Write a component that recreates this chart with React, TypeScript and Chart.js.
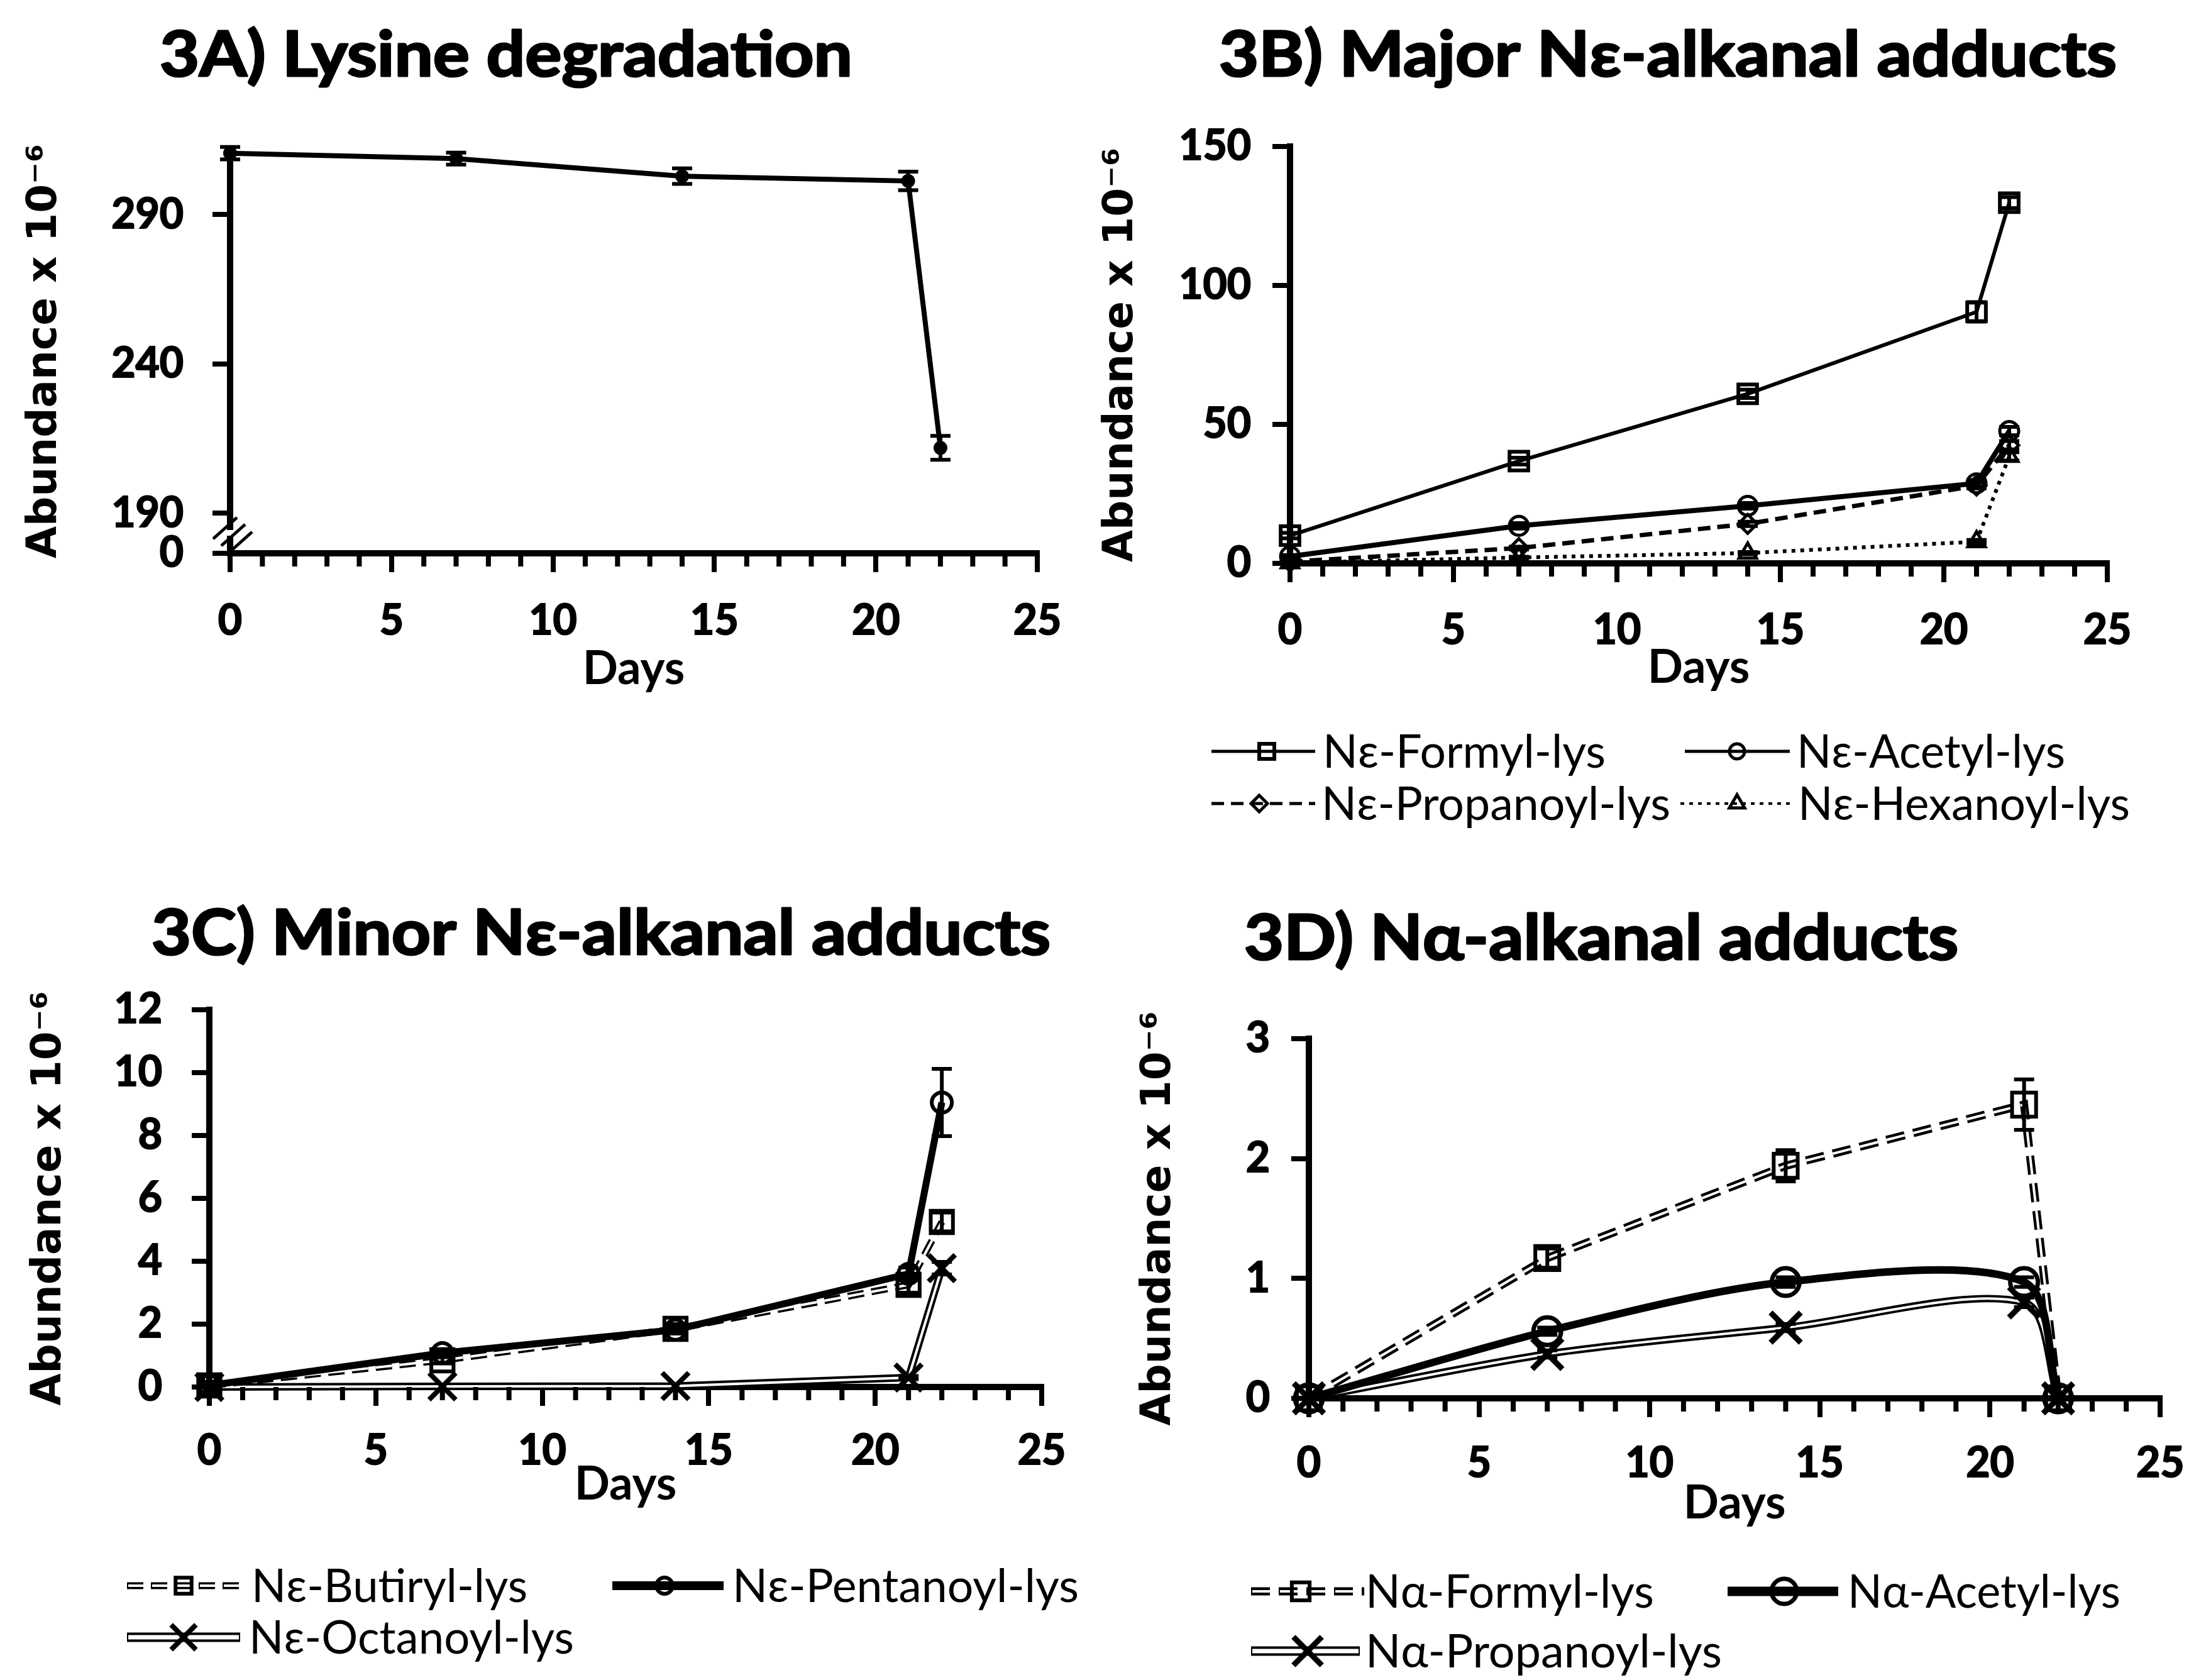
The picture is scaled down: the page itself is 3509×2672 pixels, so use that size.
import React, { useEffect, useRef } from 'react';
import { Chart, registerables } from 'chart.js';

Chart.register(...registerables);

const PAGE_W = 3509;
const PAGE_H = 2672;

/* ---------------- values ---------------- */
const DAYS = [0, 7, 14, 21, 22];
const X_MIN = 0;
const X_MAX = 25;
const X_STEP = 5;
const X_MINOR_STEP = 1;

// 3A
const LYSINE = [310.6, 308.8, 302.9, 301.3, 211.9];
const LYSINE_ERR = [2.1, 2.0, 2.6, 3.1, 4.0];
const LYSINE_Y_TICKS = [190, 240, 290];
const LYSINE_AXIS_BOTTOM = 176.6;
const LYSINE_AXIS_TOP = 312;
const LYSINE_BREAK_LABEL = '0';

// 3B
const NE_FORMYL = [10, 36.8, 61, 90.5, 129.8];
const NE_FORMYL_ERR = [1, 1.2, 1.5, 3.5, 2];
const NE_ACETYL = [2.5, 13.5, 20.7, 28.8, 47.6];
const NE_ACETYL_ERR = [0.5, 1, 1, 1.2, 1.5];
const NE_PROPANOYL = [0.6, 5.5, 14.2, 28, 42.5];
const NE_PROPANOYL_ERR = [0.2, 0.5, 0.8, 1, 1.5];
const NE_HEXANOYL = [0.2, 2.1, 3.7, 7.8, 38.5];
const NE_HEXANOYL_ERR = [0.1, 0.3, 0.4, 0.6, 1.5];
const B_Y_MAX = 150;
const B_Y_STEP = 50;

// 3C
const NE_BUTIRYL = [0.05, 0.85, 1.85, 3.25, 5.25];
const NE_BUTIRYL_ERR = [0.03, 0.1, 0.15, 0.25, 0.3];
const NE_PENTANOYL = [0.05, 1.08, 1.82, 3.6, 9.05];
const NE_PENTANOYL_ERR = [0.03, 0.08, 0.1, 0.2, 1.07];
const NE_OCTANOYL = [0, 0.02, 0.03, 0.3, 3.78];
const NE_OCTANOYL_ERR = [0, 0, 0, 0.05, 0.2];
const C_Y_MAX = 12;
const C_Y_STEP = 2;

// 3D
const NA_FORMYL = [0, 1.17, 1.94, 2.45, 0];
const NA_FORMYL_ERR = [0, 0.08, 0.13, 0.21, 0];
const NA_ACETYL = [0, 0.56, 0.97, 0.97, 0];
const NA_ACETYL_ERR = [0, 0.03, 0.04, 0.04, 0];
const NA_PROPANOYL = [0, 0.37, 0.59, 0.8, 0];
const NA_PROPANOYL_ERR = [0, 0.03, 0.03, 0.04, 0];
const D_Y_MAX = 3;
const D_Y_STEP = 1;

/* ---------------- texts ---------------- */
const TITLES = [
  '3A) Lysine degradation',
  '3B) Major Nε-alkanal adducts',
  '3C) Minor Nε-alkanal adducts',
  '3D) Nα-alkanal adducts',
];
const Y_TITLE = 'Abundance x 10⁻⁶';
const X_TITLE = 'Days';
const B_NAMES = ['Nε-Formyl-lys', 'Nε-Acetyl-lys', 'Nε-Propanoyl-lys', 'Nε-Hexanoyl-lys'];
const C_NAMES = ['Nε-Butiryl-lys', 'Nε-Pentanoyl-lys', 'Nε-Octanoyl-lys'];
const D_NAMES = ['Nα-Formyl-lys', 'Nα-Acetyl-lys', 'Nα-Propanoyl-lys'];

/* ---------------- styles ---------------- */
const NONE = 'rgba(0,0,0,0)';
const A_STYLE = { width: 8, point: 'circle', radius: 10, pointWidth: 2, pointFill: '#000' };
const B_STYLES = [
  { width: 6, point: 'rect', radius: 21, pointWidth: 6, legendRadius: 17, legendWidth: 5 },
  { width: 8, point: 'circle', radius: 15, pointWidth: 5, legendRadius: 12, legendWidth: 5 },
  { width: 7, dash: [20, 11], point: 'rectRot', radius: 15, pointWidth: 5, legendRadius: 13, legendWidth: 5 },
  { width: 6, dash: [6, 8], point: 'triangle', radius: 16, pointWidth: 5, legendRadius: 14, legendWidth: 4 },
];
const C_STYLES = [
  { width: 11, inner: 4, dash: [26, 12], point: 'rect', radius: 25, pointWidth: 6, legendRadius: 18 },
  { width: 11, point: 'circle', radius: 16, pointWidth: 6, legendRadius: 13, legendWidth: 14 },
  { width: 12, inner: 4, point: 'crossRot', radius: 30, pointWidth: 8, legendRadius: 28, legendWidth: 15, legendInner: 7 },
];
const D_STYLES = [
  { width: 13, inner: 4, dash: [30, 14], point: 'rect', radius: 27, pointWidth: 6, legendRadius: 20 },
  { width: 12, tension: 0.3, point: 'circle', radius: 22, pointWidth: 7, legendRadius: 20, legendWidth: 15 },
  { width: 12, inner: 4, tension: 0.3, point: 'crossRot', radius: 34, pointWidth: 9, legendRadius: 32, legendWidth: 15, legendInner: 7 },
];

const TICK_LEN_Y = 28;
const TICK_LEN_X = 30;
const MINOR_LEN = 21;
const AXIS_W = 10;
const TICK_W = 8;
const LH = 1.2;
const TICK_FONT = { family: 'Lato', weight: 'bold', size: 66, lineHeight: LH };
const XTITLE_FONT = { family: 'Lato', weight: 'bold', size: 74, lineHeight: LH };
const YTITLE_FONT = { family: 'DejaVu Sans', weight: 'bold', size: 66, lineHeight: LH };
const TITLE_FONT = 'bold 99px Lato';
const TITLE_STROKE = 3;
const LEGEND_FONT = '74px Lato';
const LEGEND_CAP = 26;

/* ---------------- panels (layout) ---------------- */
const PANELS = [
  {
    area: { l: 366, t: 237, r: 1650, b: 880 },
    yTitleCx: 72, xTitleCy: 1064, xTickCy: 988, yLabelRight: 292,
    yMin: LYSINE_AXIS_BOTTOM, yMax: LYSINE_AXIS_TOP, yStep: 50,
    customYTicks: LYSINE_Y_TICKS, bottomLabel: LYSINE_BREAK_LABEL, axisBreak: true,
    title: TITLES[0], titleCx: 805, titleBase: 121, titleW: 1102,
    series: [{ values: LYSINE, errors: LYSINE_ERR, style: A_STYLE }],
    legend: [],
  },
  {
    area: { l: 2052, t: 233, r: 3352, b: 896 },
    yTitleCx: 1784, xTitleCy: 1062, xTickCy: 1003, yLabelRight: 1990,
    yMin: 0, yMax: B_Y_MAX, yStep: B_Y_STEP,
    title: TITLES[1], titleCx: 2653, titleBase: 121, titleW: 1428,
    series: [
      { values: NE_FORMYL, errors: NE_FORMYL_ERR, style: B_STYLES[0] },
      { values: NE_ACETYL, errors: NE_ACETYL_ERR, style: B_STYLES[1] },
      { values: NE_PROPANOYL, errors: NE_PROPANOYL_ERR, style: B_STYLES[2] },
      { values: NE_HEXANOYL, errors: NE_HEXANOYL_ERR, style: B_STYLES[3] },
    ],
    legend: [
      { text: B_NAMES[0], style: B_STYLES[0], x1: 1927, x2: 2092, mx: 2015, y: 1195, tx: 2104, tw: 450 },
      { text: B_NAMES[1], style: B_STYLES[1], x1: 2680, x2: 2847, mx: 2763, y: 1195, tx: 2858, tw: 427 },
      { text: B_NAMES[2], style: B_STYLES[2], x1: 1927, x2: 2092, mx: 2003, y: 1278, tx: 2102, tw: 555 },
      { text: B_NAMES[3], style: B_STYLES[3], x1: 2673, x2: 2847, mx: 2763, y: 1278, tx: 2860, tw: 528 },
    ],
  },
  {
    area: { l: 333, t: 1606, r: 1657, b: 2206 },
    yTitleCx: 79, xTitleCy: 2361, xTickCy: 2308, yLabelRight: 258,
    yMin: 0, yMax: C_Y_MAX, yStep: C_Y_STEP,
    title: TITLES[2], titleCx: 956, titleBase: 1518, titleW: 1430,
    series: [
      { values: NE_BUTIRYL, errors: NE_BUTIRYL_ERR, style: C_STYLES[0] },
      { values: NE_PENTANOYL, errors: NE_PENTANOYL_ERR, style: C_STYLES[1] },
      { values: NE_OCTANOYL, errors: NE_OCTANOYL_ERR, style: C_STYLES[2] },
    ],
    legend: [
      { text: C_NAMES[0], style: C_STYLES[0], x1: 202, x2: 387, mx: 292, y: 2522, tx: 400, tw: 439 },
      { text: C_NAMES[1], style: C_STYLES[1], x1: 974, x2: 1151, mx: 1057, y: 2522, tx: 1165, tw: 551 },
      { text: C_NAMES[2], style: C_STYLES[2], x1: 202, x2: 382, mx: 292, y: 2604, tx: 396, tw: 517 },
    ],
  },
  {
    area: { l: 2082, t: 1652, r: 3458, b: 2224 },
    yTitleCx: 1844, xTitleCy: 2391, xTickCy: 2328, yLabelRight: 2020,
    yMin: 0, yMax: D_Y_MAX, yStep: D_Y_STEP,
    title: TITLES[3], titleCx: 2547, titleBase: 1526, titleW: 1136,
    series: [
      { values: NA_FORMYL, errors: NA_FORMYL_ERR, style: D_STYLES[0] },
      { values: NA_ACETYL, errors: NA_ACETYL_ERR, style: D_STYLES[1] },
      { values: NA_PROPANOYL, errors: NA_PROPANOYL_ERR, style: D_STYLES[2] },
    ],
    legend: [
      { text: D_NAMES[0], style: D_STYLES[0], x1: 1990, x2: 2170, mx: 2069, y: 2531, tx: 2172, tw: 459 },
      { text: D_NAMES[1], style: D_STYLES[1], x1: 2748, x2: 2924, mx: 2838, y: 2531, tx: 2939, tw: 434 },
      { text: D_NAMES[2], style: D_STYLES[2], x1: 1990, x2: 2163, mx: 2080, y: 2626, tx: 2172, tw: 567 },
    ],
  },
];

/* ---------------- drawing helpers ---------------- */
function drawMarker(ctx: any, style: string, x: number, y: number, r: number, lw: number, fill: string) {
  ctx.save();
  ctx.beginPath();
  ctx.lineWidth = lw;
  ctx.strokeStyle = '#000';
  ctx.fillStyle = fill;
  ctx.setLineDash([]);
  if (style === 'circle') {
    ctx.arc(x, y, r, 0, Math.PI * 2);
  } else if (style === 'rect') {
    const s = r * Math.SQRT1_2;
    ctx.rect(x - s, y - s, 2 * s, 2 * s);
  } else if (style === 'rectRot') {
    ctx.moveTo(x - r, y);
    ctx.lineTo(x, y - r);
    ctx.lineTo(x + r, y);
    ctx.lineTo(x, y + r);
    ctx.closePath();
  } else if (style === 'triangle') {
    ctx.moveTo(x, y - r);
    ctx.lineTo(x + 0.866 * r, y + 0.5 * r);
    ctx.lineTo(x - 0.866 * r, y + 0.5 * r);
    ctx.closePath();
  } else if (style === 'crossRot') {
    const o = r * Math.SQRT1_2;
    ctx.moveTo(x - o, y - o);
    ctx.lineTo(x + o, y + o);
    ctx.moveTo(x + o, y - o);
    ctx.lineTo(x - o, y + o);
  }
  if (style !== 'crossRot') ctx.fill();
  ctx.stroke();
  ctx.restore();
}

function drawFitted(ctx: any, text: string, x: number, y: number, font: string, targetW: number, align: string, stroke = 0) {
  ctx.save();
  ctx.font = font;
  ctx.fillStyle = '#000';
  const w = ctx.measureText(text).width;
  const k = targetW ? targetW / w : 1;
  ctx.translate(x, y);
  ctx.scale(k, 1);
  ctx.textAlign = align;
  ctx.textBaseline = 'alphabetic';
  ctx.fillText(text, 0, 0);
  if (stroke) {
    ctx.strokeStyle = '#000';
    ctx.lineWidth = stroke;
    ctx.lineJoin = 'round';
    ctx.strokeText(text, 0, 0);
  }
  ctx.restore();
}

function drawSample(ctx: any, st: any, x1: number, x2: number, y: number) {
  ctx.save();
  ctx.lineCap = 'butt';
  ctx.strokeStyle = '#000';
  ctx.lineWidth = st.legendWidth ?? st.width;
  ctx.setLineDash(st.dash ?? []);
  ctx.beginPath();
  ctx.moveTo(x1, y);
  ctx.lineTo(x2, y);
  ctx.stroke();
  if (st.inner) {
    ctx.strokeStyle = '#fff';
    ctx.lineWidth = st.legendInner ?? st.inner;
    ctx.beginPath();
    ctx.moveTo(x1 + 2, y);
    ctx.lineTo(x2 - 2, y);
    ctx.stroke();
  }
  ctx.restore();
}

function overlayPlugin(p: any) {
  return {
    id: 'overlay',
    afterDatasetsDraw(chart: any) {
      const { ctx } = chart;
      const xs = chart.scales.x;
      const ys = chart.scales.y;
      ctx.save();
      ctx.strokeStyle = '#000';
      ctx.lineWidth = 6;
      ctx.setLineDash([]);
      p.series.forEach((s: any) => {
        s.values.forEach((v: number, j: number) => {
          const e = s.errors[j];
          if (!e) return;
          const px = xs.getPixelForValue(DAYS[j]);
          const top = ys.getPixelForValue(v + e);
          const bot = ys.getPixelForValue(v - e);
          const cap = 16;
          ctx.beginPath();
          ctx.moveTo(px, top);
          ctx.lineTo(px, bot);
          ctx.moveTo(px - cap, top);
          ctx.lineTo(px + cap, top);
          ctx.moveTo(px - cap, bot);
          ctx.lineTo(px + cap, bot);
          ctx.stroke();
        });
      });
      ctx.restore();
    },
    afterDraw(chart: any) {
      const { ctx, chartArea } = chart;
      const xs = chart.scales.x;
      // minor ticks
      ctx.save();
      ctx.strokeStyle = '#000';
      ctx.lineWidth = TICK_W;
      for (let v = X_MIN; v <= X_MAX; v += X_MINOR_STEP) {
        if (v % X_STEP === 0) continue;
        const px = xs.getPixelForValue(v);
        ctx.beginPath();
        ctx.moveTo(px, chartArea.bottom);
        ctx.lineTo(px, chartArea.bottom + MINOR_LEN);
        ctx.stroke();
      }
      ctx.restore();
      // axis break
      if (p.axisBreak) {
        const yb = chart.scales.y.getPixelForValue(p.yMin);
        const xa = chartArea.left;
        ctx.save();
        ctx.fillStyle = '#fff';
        ctx.fillRect(xa - 7, yb - 37, 14, 9);
        ctx.strokeStyle = '#000';
        ctx.lineWidth = 5;
        [[-8, -40], [5, -29], [16, -17]].forEach(([dx, dy]) => {
          ctx.beginPath();
          ctx.moveTo(xa + dx - 19, yb + dy + 17);
          ctx.lineTo(xa + dx + 19, yb + dy - 17);
          ctx.stroke();
        });
        ctx.restore();
      }
      // title
      drawFitted(ctx, p.title, p.titleCx, p.titleBase, TITLE_FONT, p.titleW, 'center', TITLE_STROKE);
      // legend
      p.legend.forEach((it: any) => {
        drawSample(ctx, it.style, it.x1, it.x2, it.y);
        drawMarker(ctx, it.style.point, it.mx, it.y, it.style.legendRadius ?? it.style.radius, it.style.pointWidth, it.style.pointFill ?? NONE);
        drawFitted(ctx, it.text, it.tx, it.y + LEGEND_CAP, LEGEND_FONT, it.tw, 'left');
      });
    },
  };
}

function seriesDatasets(s: any, idx: number) {
  const st = s.style;
  const data = DAYS.map((d, i) => ({ x: d, y: s.values[i] }));
  const base = {
    data,
    tension: st.tension ?? 0,
    clip: false,
    borderDash: st.dash ?? [],
    borderCapStyle: 'butt',
  };
  const pointProps = {
    pointStyle: st.point,
    pointRadius: st.radius,
    pointHoverRadius: st.radius,
    pointBorderWidth: st.pointWidth,
    pointBorderColor: '#000',
    pointBackgroundColor: st.pointFill ?? NONE,
  };
  if (!st.inner) {
    return [{ ...base, borderColor: '#000', borderWidth: st.width, ...pointProps, order: 10 + idx }];
  }
  return [
    { ...base, borderColor: '#000', borderWidth: st.width, pointRadius: 0, pointHoverRadius: 0, order: 30 + 2 * idx + 1 },
    { ...base, borderColor: '#fff', borderWidth: st.inner, pointRadius: 0, pointHoverRadius: 0, order: 30 + 2 * idx },
    { data, showLine: false, clip: false, ...pointProps, order: idx },
  ];
}

function buildConfig(p: any) {
  const yTitleLh = YTITLE_FONT.size * LH;
  const xTitleLh = XTITLE_FONT.size * LH;
  const tickLh = TICK_FONT.size * LH;
  const padLeft = p.yTitleCx - yTitleLh / 2;
  const wy = p.area.l - padLeft;
  const hx = p.xTitleCy + xTitleLh / 2 - p.area.b;
  const xTickPad = p.xTickCy - p.area.b - TICK_LEN_X - tickLh / 2;
  const yTickPad = p.area.l - TICK_LEN_Y - p.yLabelRight;

  const datasets: any[] = [];
  p.series.forEach((s: any, i: number) => datasets.push(...seriesDatasets(s, i)));

  const tickCommon = { font: TICK_FONT, color: '#000', autoSkip: false, textStrokeColor: '#000', textStrokeWidth: 2 };

  const yScale: any = {
    type: 'linear',
    min: p.yMin,
    max: p.yMax,
    ticks: { ...tickCommon, stepSize: p.yStep, padding: yTickPad },
    grid: { display: true, drawOnChartArea: false, drawTicks: true, tickLength: TICK_LEN_Y, lineWidth: TICK_W, color: '#000' },
    border: { display: true, color: '#000', width: AXIS_W },
    title: { display: true, text: Y_TITLE, font: YTITLE_FONT, color: '#000', padding: { top: 0, bottom: 0 } },
    afterFit: (s: any) => { s.width = wy; },
  };
  if (p.customYTicks) {
    yScale.afterBuildTicks = (s: any) => {
      s.ticks = [p.yMin, ...p.customYTicks].map((value: number) => ({ value }));
    };
    yScale.ticks.callback = (v: number) => (v === p.yMin ? p.bottomLabel : String(v));
  }

  return {
    type: 'line',
    data: { datasets },
    options: {
      responsive: false,
      animation: false,
      devicePixelRatio: 1,
      events: [],
      layout: {
        padding: {
          left: padLeft,
          right: PAGE_W - p.area.r,
          top: p.area.t,
          bottom: PAGE_H - p.area.b - hx,
        },
      },
      plugins: {
        legend: { display: false },
        title: { display: false },
        tooltip: { enabled: false },
      },
      scales: {
        x: {
          type: 'linear',
          min: X_MIN,
          max: X_MAX,
          ticks: { ...tickCommon, stepSize: X_STEP, padding: xTickPad, maxRotation: 0 },
          grid: { display: true, drawOnChartArea: false, drawTicks: true, tickLength: TICK_LEN_X, lineWidth: TICK_W, color: '#000' },
          border: { display: true, color: '#000', width: AXIS_W },
          title: { display: true, text: X_TITLE, font: XTITLE_FONT, color: '#000', padding: { top: 0, bottom: 0 } },
          afterFit: (s: any) => { s.height = hx; },
        },
        y: yScale,
      },
    },
    plugins: [overlayPlugin(p)],
  };
}

export default function App() {
  const r0 = useRef<HTMLCanvasElement>(null);
  const r1 = useRef<HTMLCanvasElement>(null);
  const r2 = useRef<HTMLCanvasElement>(null);
  const r3 = useRef<HTMLCanvasElement>(null);
  const refs = [r0, r1, r2, r3];

  useEffect(() => {
    document.body.style.margin = '0';
    const charts = PANELS.map((p, i) => new Chart(refs[i].current as any, buildConfig(p) as any));
    return () => charts.forEach((c) => c.destroy());
  }, []);

  return (
    <div style={{ position: 'relative', width: PAGE_W, height: PAGE_H, background: '#fff', overflow: 'hidden' }}>
      {PANELS.map((_, i) => (
        <canvas
          key={i}
          ref={refs[i]}
          width={PAGE_W}
          height={PAGE_H}
          style={{ position: 'absolute', left: 0, top: 0, width: PAGE_W, height: PAGE_H }}
        />
      ))}
    </div>
  );
}
